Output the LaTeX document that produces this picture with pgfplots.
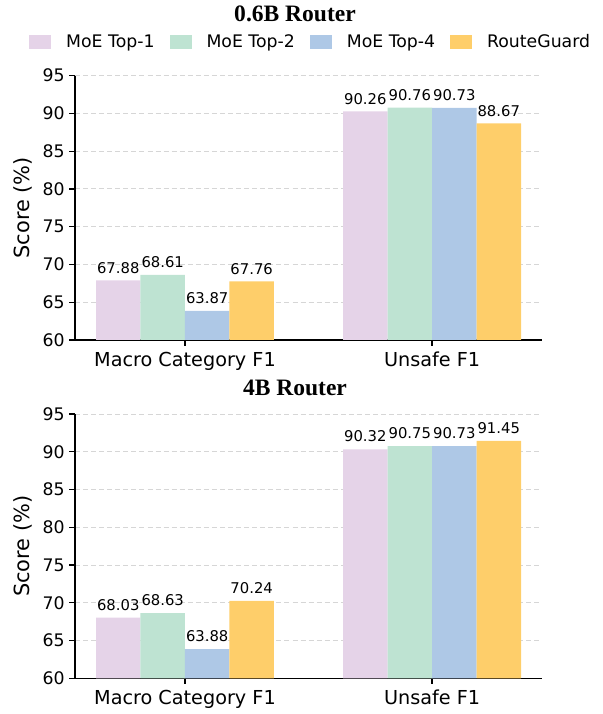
\documentclass[border=0pt]{standalone}
\usepackage{pgfplots}
\pgfplotsset{compat=1.18}
\usepackage{fontspec}
\setmainfont{DejaVu Sans}
\newfontfamily\titlefont{Liberation Serif}

\definecolor{topone}{HTML}{E5D3E8}
\definecolor{toptwo}{HTML}{BEE3D2}
\definecolor{topfour}{HTML}{AEC8E6}
\definecolor{guard}{HTML}{FECE6A}

% shared look of both panels (1px of the reference = 0.72bp)
\pgfplotsset{
  routerbars/.style={
    width=336.24bp, height=190.3bp, scale only axis,
    anchor=south west,
    xmin=-0.445, xmax=1.445, ymin=60, ymax=95,
    ytick={60,65,...,95},
    xtick={0,1}, xticklabels={Macro Category F1, Unsafe F1},
    axis lines*=left,
    axis line style={line width=1bp, black},
    tick align=outside, major tick length=4bp,
    major tick style={line width=0.9bp, black},
    /pgf/number format/assume math mode=true,
    ticklabel style={font=\fontsize{12.5}{15}\selectfont},
    xticklabel style={font=\fontsize{13.9}{16}\selectfont, yshift=-1bp},
    ylabel={Score (\%)},
    ylabel style={font=\fontsize{15.1}{18}\selectfont, at={(axis description cs:-0.111,0.5)}, anchor=center},
    ymajorgrids,
    grid style={gray!32, line width=0.7bp, dash pattern=on 3.6bp off 2.2bp},
    ybar, bar width=0.18, bar shift=0pt,
    point meta=explicit symbolic,
    nodes near coords,
    every node near coord/.append style={font=\fontsize{10.7}{12}\selectfont, anchor=base, yshift=5.3bp, inner sep=0pt},
    every axis plot post/.append style={draw=none,
      legend image code/.code={\fill[##1] (0bp,-4.7bp) rectangle (15.8bp,4.7bp);}},
  }
}

\begin{document}
\begin{tikzpicture}
\begin{axis}[routerbars, at={(54bp,269.28bp)},
    legend columns=4,
    legend style={at={(axis description cs:-0.0985,1.1275)}, anchor=west,
      draw=none, fill=none, inner sep=0pt, nodes={inner sep=0pt},
      font=\fontsize{12.5}{15}\selectfont,
      /tikz/every odd column/.append style={column sep=10.8bp},
      /tikz/every even column/.append style={column sep=10.8bp}}]
  \addplot[fill=topone] coordinates {(-0.27,67.88) [67.88] (0.73,90.26) [90.26]};
  \addplot[fill=toptwo] coordinates {(-0.09,68.61) [68.61] (0.91,90.76) [90.76]};
  \addplot[fill=topfour] coordinates {(0.09,63.87) [63.87] (1.09,90.73) [90.73]};
  \addplot[fill=guard] coordinates {(0.27,67.76) [67.76] (1.27,88.67) [88.67]};
  \legend{MoE Top-1, MoE Top-2, MoE Top-4, RouteGuard}
\end{axis}
\begin{axis}[routerbars, at={(54bp,25.7bp)}]
  \addplot[fill=topone] coordinates {(-0.27,68.03) [68.03] (0.73,90.32) [90.32]};
  \addplot[fill=toptwo] coordinates {(-0.09,68.63) [68.63] (0.91,90.75) [90.75]};
  \addplot[fill=topfour] coordinates {(0.09,63.88) [63.88] (1.09,90.73) [90.73]};
  \addplot[fill=guard] coordinates {(0.27,70.24) [70.24] (1.27,91.45) [91.45]};
\end{axis}
\node[font={\titlefont\bfseries\fontsize{17}{20}\selectfont}, anchor=base] at (212.4bp,498.24bp) {0.6B Router};
\node[font={\titlefont\bfseries\fontsize{17}{20}\selectfont}, anchor=base] at (212.4bp,228.96bp) {4B Router};
\pgfresetboundingbox
\path[use as bounding box] (0,0) rectangle (434.16bp,514.08bp);
\end{tikzpicture}
\end{document}
